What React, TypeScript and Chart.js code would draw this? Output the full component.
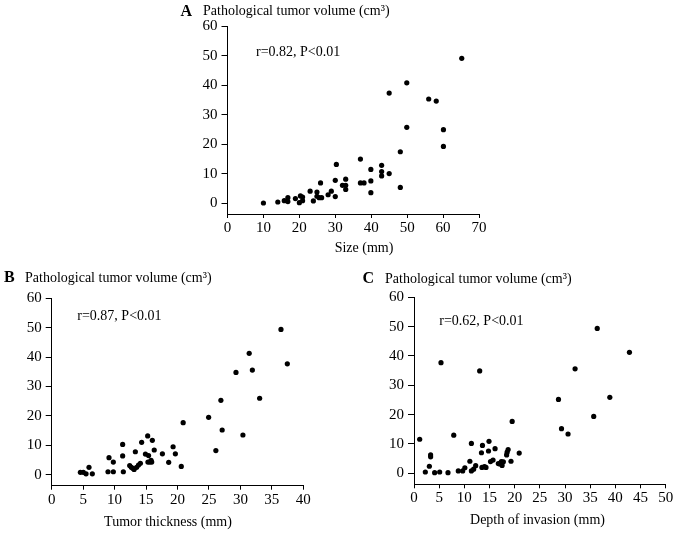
import React, { useEffect, useRef } from "react";
import { Chart, registerables } from "chart.js";

Chart.register(...registerables);

// ---------- Data ----------
// Panel A: tumor size (mm) vs pathological tumor volume (cm3)
const sizeA = [10, 14, 15.8, 16.8, 16.8, 18.9, 20, 20.3, 20.9, 20.9, 23, 23.9, 24.9, 24.9, 25.5, 26.2, 25.9, 28, 28.9, 30, 30, 30.3, 32, 32.9, 32.9, 32.9, 37, 37, 38, 39.9, 39.9, 39.9, 42.9, 42.9, 42.9, 45, 45, 48.1, 48.1, 49.9, 49.9, 56, 58.1, 60.1, 60.1, 65.2];
const volumeA = [0.1, 0.45, 0.9, 1.9, 0.6, 1.6, 0.2, 2.5, 2.1, 0.9, 4.1, 0.8, 3.8, 2.4, 1.9, 1.9, 6.9, 2.9, 4.1, 7.8, 2.3, 13.2, 6.1, 6.1, 4.7, 8.2, 15, 6.9, 6.9, 11.5, 7.6, 3.6, 12.9, 10.8, 9.3, 10.1, 37.4, 17.5, 5.4, 40.9, 25.8, 35.4, 34.7, 25, 19.3, 49.2];

// Panel B: tumor thickness (mm) vs volume
const thicknessB = [4.56, 5.03, 5.46, 5.93, 6.46, 8.95, 9.11, 9.8, 9.8, 11.28, 11.28, 11.39, 12.4, 12.66, 12.9, 13.1, 13.3, 13.5, 13.8, 14.1, 14.3, 14.9, 15.26, 15.4, 15.3, 15.6, 15.8, 16, 15.9, 16.3, 17.6, 18.6, 19.3, 19.66, 20.6, 20.9, 24.95, 26.1, 26.9, 27.1, 29.3, 30.4, 31.4, 31.9, 33.06, 36.45, 37.46];
const volumeB = [0.8, 0.8, 0.3, 2.5, 0.3, 1.0, 5.8, 4.3, 1.0, 10.3, 6.4, 1.0, 3.1, 2.5, 2.2, 1.8, 7.8, 2.5, 3.3, 3.9, 11, 7.0, 13.2, 6.5, 4.3, 4.3, 4.9, 11.7, 4.3, 8.4, 7.1, 4.2, 9.5, 7.1, 2.8, 17.7, 19.5, 8.2, 25.3, 15.2, 34.8, 13.5, 41.3, 35.6, 26, 49.4, 37.7];

// Panel C: depth of invasion (mm) vs volume
const depthC = [1.13, 2.25, 3.05, 3.3, 3.3, 4.1, 5.1, 5.36, 6.75, 7.9, 8.8, 9.67, 10.1, 11.1, 11.4, 11.4, 11.85, 12.25, 13.05, 13.4, 13.5, 13.6, 14, 14.3, 14.8, 14.9, 15.2, 15.7, 16.1, 16.75, 17.1, 17.35, 17.5, 17.75, 18.4, 18.5, 18.7, 19.27, 19.5, 20.9, 28.7, 29.3, 30.6, 32, 35.7, 36.4, 38.9, 42.8];
const volumeC = [11.6, 0.45, 2.4, 6.25, 5.6, 0.2, 0.45, 37.7, 0.2, 13, 0.8, 0.8, 1.9, 4.1, 10.2, 0.8, 1.4, 2.6, 34.9, 7.0, 2.0, 9.5, 2.3, 2.0, 7.6, 10.9, 4.0, 4.5, 8.4, 3.3, 3.2, 4.0, 2.7, 3.9, 6.25, 7.2, 8.1, 4.1, 17.7, 6.9, 25.2, 15.2, 13.4, 35.6, 19.4, 49.4, 25.9, 41.25];

const panelLetters = ["A", "B", "C"];
const yTitle = "Pathological tumor volume (cm\u00B3)";
const xTitles = ["Size (mm)", "Tumor thickness (mm)", "Depth of invasion (mm)"];
const notes = ["r=0.82, P<0.01", "r=0.87, P<0.01", "r=0.62, P<0.01"];
const xMaxes = [70, 40, 50];
const xSteps = [10, 5, 5];
const yMax = 60;
const yStep = 10;

// ---------- Layout ----------
const W = 677;
const H = 534;
const YW = 45;
const XH = 20;
const FONT = '"Liberation Serif", "Times New Roman", serif';

type Layout = {
  area: { left: number; right: number; top: number; bottom: number };
  yMin: number;
  letterX: number;
  titleX: number;
  titleY: number;
  noteX: number;
  noteY: number;
  xTitleX: number;
  xTitleY: number;
};

const layouts: Layout[] = [
  { area: { left: 227.5, right: 479, top: 26.5, bottom: 214 }, yMin: -3.63, letterX: 180.5, titleX: 203, titleY: 11.5, noteX: 256, noteY: 52, xTitleX: 364, xTitleY: 248 },
  { area: { left: 51.7, right: 303.3, top: 298.3, bottom: 485.7 }, yMin: -3.74, letterX: 4, titleX: 25, titleY: 278, noteX: 77.3, noteY: 316.7, xTitleX: 168, xTitleY: 522.7 },
  { area: { left: 414, right: 665.7, top: 297.3, bottom: 484.3 }, yMin: -3.75, letterX: 362.5, titleX: 385, titleY: 279, noteX: 439.3, noteY: 321.7, xTitleX: 537.5, xTitleY: 520.7 },
];

function Panel({ idx, xs, ys }: { idx: number; xs: number[]; ys: number[] }) {
  const ref = useRef<HTMLCanvasElement | null>(null);
  useEffect(() => {
    const canvas = ref.current;
    if (!canvas) return;
    const L = layouts[idx];
    const fitY = (s: any) => {
      s.width = YW;
      s.paddingTop = 0;
      s.paddingBottom = 0;
      s.paddingLeft = 0;
      s.paddingRight = 0;
    };
    const fitX = (s: any) => {
      s.height = XH;
      s.paddingTop = 0;
      s.paddingBottom = 0;
      s.paddingLeft = 0;
      s.paddingRight = 0;
    };
    const textPlugin = {
      id: "panelText" + idx,
      afterDraw(chart: any) {
        const ctx = chart.ctx as CanvasRenderingContext2D;
        ctx.save();
        ctx.fillStyle = "#000";
        ctx.textBaseline = "middle";
        ctx.textAlign = "left";
        ctx.font = "bold 16px " + FONT;
        ctx.fillText(panelLetters[idx], L.letterX, L.titleY);
        ctx.font = "14px " + FONT;
        ctx.fillText(yTitle, L.titleX, L.titleY);
        ctx.fillText(notes[idx], L.noteX, L.noteY);
        ctx.textAlign = "center";
        ctx.fillText(xTitles[idx], L.xTitleX, L.xTitleY);
        ctx.restore();
      },
    };
    const chart = new Chart(canvas, {
      type: "scatter",
      data: {
        datasets: [
          {
            data: xs.map((x, i) => ({ x, y: ys[i] })),
            pointRadius: 2.6,
            pointHoverRadius: 2.6,
            backgroundColor: "#000",
            borderColor: "#000",
            borderWidth: 0,
          },
        ],
      },
      options: {
        responsive: false,
        animation: false,
        events: [],
        layout: {
          padding: {
            left: L.area.left - YW,
            top: L.area.top,
            right: W - L.area.right,
            bottom: H - L.area.bottom - XH,
          },
        },
        plugins: {
          legend: { display: false },
          tooltip: { enabled: false },
          title: { display: false },
        },
        scales: {
          x: {
            type: "linear",
            min: 0,
            max: xMaxes[idx],
            afterFit: fitX,
            ticks: {
              stepSize: xSteps[idx],
              includeBounds: false,
              maxRotation: 0,
              autoSkip: false,
              padding: 1,
              color: "#000",
              font: { family: FONT, size: 15 },
            },
            grid: {
              display: true,
              drawOnChartArea: false,
              drawTicks: true,
              tickLength: 4,
              color: "#000",
              lineWidth: 1,
            },
            border: { display: true, color: "#000", width: 1 },
          },
          y: {
            type: "linear",
            min: L.yMin,
            max: yMax,
            afterFit: fitY,
            ticks: {
              stepSize: yStep,
              includeBounds: false,
              autoSkip: false,
              padding: 4,
              color: "#000",
              font: { family: FONT, size: 15 },
            },
            grid: {
              display: true,
              drawOnChartArea: false,
              drawTicks: true,
              tickLength: 6,
              color: "#000",
              lineWidth: 1,
            },
            border: { display: true, color: "#000", width: 1 },
          },
        },
      } as any,
      plugins: [textPlugin],
    });
    return () => chart.destroy();
  }, [idx, xs, ys]);
  return (
    <canvas
      ref={ref}
      width={W}
      height={H}
      style={{ position: "absolute", left: 0, top: 0, width: W, height: H }}
    />
  );
}

export default function App() {
  return (
    <div style={{ position: "absolute", left: 0, top: 0, width: W, height: H, background: "#fff", overflow: "hidden" }}>
      <Panel idx={0} xs={sizeA} ys={volumeA} />
      <Panel idx={1} xs={thicknessB} ys={volumeB} />
      <Panel idx={2} xs={depthC} ys={volumeC} />
    </div>
  );
}
